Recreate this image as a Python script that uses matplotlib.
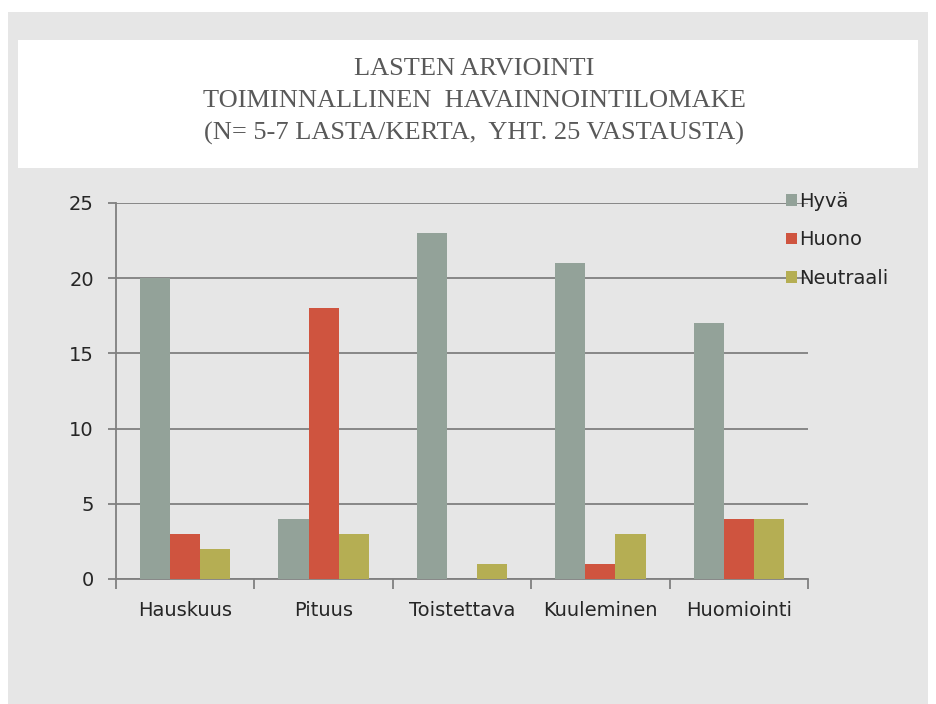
import matplotlib.pyplot as plt
import numpy as np
from matplotlib.patches import Rectangle

# data
categories = ['Hauskuus', 'Pituus', 'Toistettava', 'Kuuleminen', 'Huomiointi']
hyva = [20, 4, 23, 21, 17]
huono = [3, 18, 0, 1, 4]
neutraali = [2, 3, 1, 3, 4]
series_names = ['Hyvä', 'Huono', 'Neutraali']
colors = ['#93a299', '#cf543f', '#b5ae53']
title_lines = ['LASTEN ARVIOINTI',
               'TOIMINNALLINEN  HAVAINNOINTILOMAKE',
               '(N= 5-7 LASTA/KERTA,  YHT. 25 VASTAUSTA)']

W, H = 936, 704
fig = plt.figure(figsize=(W / 100, H / 100), dpi=100)
fig.patch.set_facecolor('white')

# slide panel + white title box (pixel coords -> figure fraction)
def px_rect(x0, y0, x1, y1, color):
    fig.patches.append(Rectangle((x0 / W, 1 - y1 / H), (x1 - x0) / W, (y1 - y0) / H,
                                 transform=fig.transFigure, facecolor=color,
                                 edgecolor='none', zorder=-10))

px_rect(8, 12, 928, 704, '#e6e6e6')
px_rect(18, 40, 918, 168, 'white')

for i, line in enumerate(title_lines):
    fig.text(474 / W, 1 - (69 + i * 32) / H, line, ha='center', va='center',
             fontsize=19, family='Liberation Serif', color='#595959')

ax = fig.add_axes([116 / W, 1 - 579 / H, (808 - 116) / W, (579 - 203) / H])
ax.set_facecolor('none')

x = np.arange(len(categories))
w = 0.218
for k, (vals, name) in enumerate(zip([hyva, huono, neutraali], series_names)):
    ax.bar(x + (k - 1) * w, vals, w, color=colors[k], label=name, zorder=3)

ax.set_xlim(-0.5, len(categories) - 0.5)
ax.set_ylim(0, 25)
ax.set_yticks([0, 5, 10, 15, 20, 25])
ax.yaxis.grid(True, color='#808080', lw=1.3, zorder=1)
ax.set_axisbelow(True)
for s in ['top', 'right']:
    ax.spines[s].set_visible(False)
for s in ['left', 'bottom']:
    ax.spines[s].set_color('#808080')
    ax.spines[s].set_linewidth(1.3)

ax.set_xticks(x)
ax.set_xticklabels(categories)
ax.set_xticks(np.arange(len(categories) + 1) - 0.5, minor=True)
ax.tick_params(axis='x', which='major', length=0, pad=16)
ax.tick_params(axis='x', which='minor', length=7, color='#808080', width=1.3)
ax.tick_params(axis='y', length=6, color='#808080', width=1.3, pad=10)
for lab in ax.get_xticklabels() + ax.get_yticklabels():
    lab.set_fontsize(14)
    lab.set_family('DejaVu Sans')
    lab.set_color('#262626')

leg = ax.legend(loc='upper left', bbox_to_anchor=(786 / W, 1 - 192 / H),
                bbox_transform=fig.transFigure, frameon=False,
                handlelength=0.55, handleheight=0.55, handletextpad=0.15,
                labelspacing=1.0, borderaxespad=0, borderpad=0,
                prop={'family': 'DejaVu Sans', 'size': 14})
for t in leg.get_texts():
    t.set_color('#262626')

fig.savefig('out.png', dpi=100)
